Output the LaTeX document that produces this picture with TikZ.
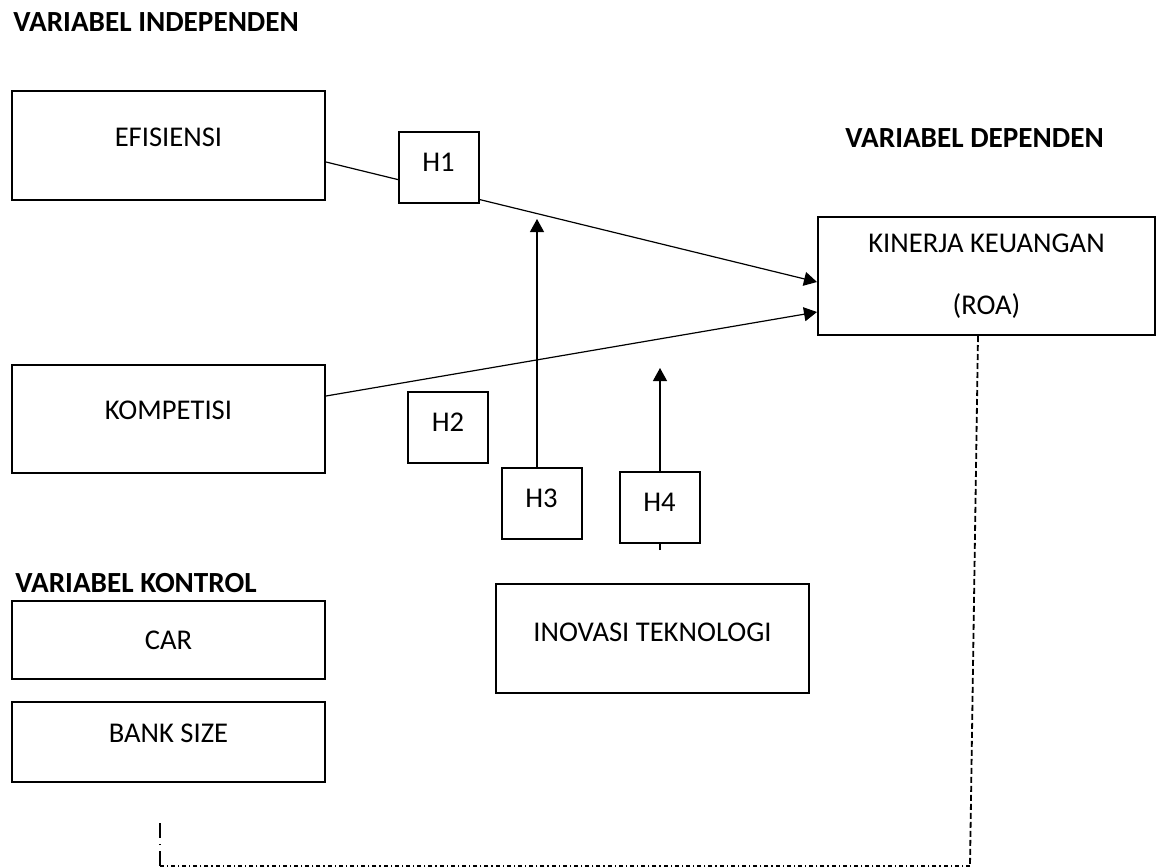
\documentclass[tikz,border=0pt]{standalone}
\usepackage{fontspec}
\setmainfont{Carlito}
\usetikzlibrary{arrows.meta}

\begin{document}
\begin{tikzpicture}[x=0.5pt,y=-0.5pt,
    varbox/.style={draw,line width=1pt,fill=white,inner sep=0pt,minimum width=156.5pt,
      font=\fontsize{14.3}{17}\selectfont,align=center},
    hypbox/.style={draw,line width=1pt,fill=white,inner sep=0pt,minimum width=40pt,
      minimum height=35.5pt,text depth=5pt,font=\fontsize{14.3}{17}\selectfont},
    heading/.style={anchor=west,inner sep=0pt,font=\fontsize{14.6}{17}\selectfont\bfseries},
    link/.style={line width=0.6pt,-{Triangle[length=6.5pt,width=7pt]}}]
  \fill[white] (0,0) rectangle (1163,868);
  \useasboundingbox (0,0) rectangle (1163,868);

  % judul kelompok variabel
  \node[heading] (hind) at (13,22) {VARIABEL INDEPENDEN};
  \node[heading] (hdep) at (845,138) {VARIABEL DEPENDEN};
  \node[heading] (hkon) at (15,583) {VARIABEL KONTROL};

  % kotak variabel
  \node[varbox,minimum height=54.5pt,text depth=8.5pt] (ef) at (168.5,145.5) {EFISIENSI};
  \node[varbox,minimum height=54pt,text depth=9pt] (kom) at (168.5,419) {KOMPETISI};
  \node[varbox,minimum width=168.5pt,minimum height=59pt] (kin) at (986.5,276)
    {KINERJA KEUANGAN\\[14pt](ROA)};
  \node[varbox,minimum height=39pt] (car) at (168.5,640) {CAR};
  \node[varbox,minimum height=40pt,text depth=9pt] (bank) at (168.5,742) {BANK SIZE};
  \node[varbox,minimum height=54.5pt,text depth=6.5pt] (ino) at (652.5,638.5) {INOVASI TEKNOLOGI};

  % titik bantu
  \coordinate (h3tip) at (537,219);
  \coordinate (h4tip) at (660,368);
  \coordinate (h4foot) at (660,550);
  \coordinate (sudut) at (970,866);
  \coordinate (kiri) at (160,866);
  \coordinate (ujung) at (160,822);

  % hubungan
  \draw[link] ([yshift=-8.25pt]ef.east) -- ([yshift=-3pt]kin.west);
  \draw[link] ([yshift=11.5pt]kom.east) -- ([yshift=-18pt]kin.west);
  \draw[link] (h4foot) -- (h4tip);

  % hipotesis
  \node[hypbox] (h1) at (438.5,167) {H1};
  \node[hypbox] (h2) at (448,427.5) {H2};
  \node[hypbox] (h3) at (541.5,503.5) {H3};
  \node[hypbox] (h4) at (659.5,507) {H4};
  \draw[link] (h3tip |- h3.north) -- (h3tip);

  % garis putus-putus variabel kontrol
  \draw[line width=0.9pt,dash pattern=on 3pt off 1.5pt] ([xshift=-4.25pt]kin.south) -- (sudut);
  \draw[line width=0.8pt,dash pattern=on 2pt off 1.5pt on 0.6pt off 1.5pt] (sudut) -- (kiri);
  \draw[line width=0.8pt,dash pattern=on 7.5pt off 3pt on 0.6pt off 3pt] (kiri) -- (ujung);
\end{tikzpicture}
\end{document}
